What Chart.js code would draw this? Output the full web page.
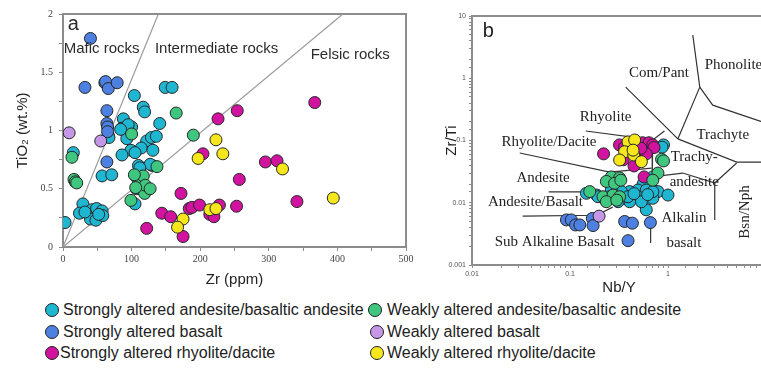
<!DOCTYPE html>
<html>
<head>
<meta charset="utf-8">
<script src="https://cdn.jsdelivr.net/npm/chart.js@4.4.1/dist/chart.umd.min.js"></script>
<style>
  body { margin: 0; width: 761px; height: 369px; overflow: hidden; background: #fff; position: relative;
         font-family: "Liberation Sans", Arial, sans-serif; }
  #ca { position: absolute; left: 0; top: 0; }
  #cb { position: absolute; left: 440px; top: 0; }
  .lg { position: absolute; font-size: 16px; color: #222; white-space: nowrap; line-height: 20px; }
  .dot { position: absolute; width: 12px; height: 12px; border-radius: 50%; border: 1px solid #222; }
</style>
</head>
<body>
<canvas id="ca" width="440" height="290"></canvas>
<canvas id="cb" width="340" height="300"></canvas>
<div id="legend"></div>
<script>
// sample groups
const groupNames = [
  'Strongly altered andesite/basaltic andesite',
  'Strongly altered basalt',
  'Strongly altered rhyolite/dacite',
  'Weakly altered andesite/basaltic andesite',
  'Weakly altered basalt',
  'Weakly altered rhyolite/dacite'
];
const groupColors = ['#1fb6d2', '#4d80e0', '#d1139f', '#3fc67f', '#c597e6', '#f6e71c'];

// panel a: Zr (ppm) vs TiO2 (wt.%)
const andesiteStrongA = [[149,1.37],[159,1.37],[104,1.30],[117,1.20],[119,1.16],[88,1.10],[86,1.02],[100,1.03],
  [141,1.06],[91,0.99],[93,0.93],[66,0.96],[67,0.94],[122,0.91],[129,0.94],[136,0.95],[114,0.85],[131,0.83],
  [99,0.83],[105,0.81],[86,0.79],[110,0.70],[130,0.70],[127,0.71],[15,0.81],[57,0.61],[71,0.62],[107,0.60],
  [107,0.50],[105,0.37],[29,0.37],[24,0.29],[36,0.29],[42,0.32],[49,0.33],[40,0.24],[48,0.23],[57,0.31],
  [58,0.27],[3,0.21],[32,0.30],[52,0.28],[112,0.68],[95,1.05],[84,1.01]];
const basaltStrongA = [[40,1.79],[32,1.37],[61,1.41],[62,1.42],[66,1.36],[79,1.41],[64,1.17],[64,1.06],
  [65,1.03],[65,0.99],[64,0.73]];
const rhyoliteStrongA = [[226,1.10],[254,1.17],[367,1.24],[204,0.80],[295,0.73],[312,0.74],[257,0.58],[341,0.39],
  [253,0.35],[228,0.36],[214,0.28],[220,0.26],[172,0.46],[144,0.29],[157,0.26],[184,0.33],[188,0.34],
  [199,0.36],[122,0.16],[175,0.09]];
const andesiteWeakA = [[165,1.15],[190,0.96],[100,0.97],[137,0.69],[13,0.77],[16,0.58],[18,0.56],[20,0.55],
  [99,0.40],[109,0.52],[112,0.59],[117,0.61],[119,0.46],[120,0.53],[127,0.50],[104,0.62],[106,0.51]];
const basaltWeakA = [[9,0.98],[55,0.91]];
const rhyoliteWeakA = [[223,0.92],[233,0.80],[197,0.76],[175,0.24],[167,0.17],[214,0.32],[223,0.33],[320,0.67],[394,0.42]];

const maficLineA = [[0,0],[139,2]];
const felsicLineA = [[0,0],[408,2]];
const notesA = [
  { text: 'a', x: 7, y: 1.91, big: true },
  { text: 'Mafic rocks', x: 1, y: 1.70 },
  { text: 'Intermediate rocks', x: 134, y: 1.70 },
  { text: 'Felsic rocks', x: 361, y: 1.65 }
];

// panel b: Nb/Y vs Zr/Ti
const andesiteStrongB = [[0.90,0.085],[0.87,0.078],[0.70,0.026],[0.66,0.0193],[0.557,0.020],[0.494,0.016],
  [0.60,0.016],[0.79,0.0151],[1.0,0.0133],[0.406,0.0151],[0.334,0.0151],[0.494,0.0125],[0.60,0.0111],
  [0.70,0.0118],[0.406,0.0104],[0.334,0.0118],[0.60,0.0077],[0.264,0.016],[0.187,0.0133],[0.147,0.0142],
  [0.193,0.0125],[0.254,0.0125],[0.31,0.0104],[0.391,0.0125],[0.535,0.0104],[0.70,0.0151],[0.45,0.014],[0.62,0.0135]];
const basaltStrongB = [[0.092,0.0053],[0.103,0.0053],[0.114,0.0044],[0.126,0.0044],[0.169,0.0056],[0.172,0.0043],
  [0.361,0.005],[0.433,0.0047],[0.661,0.0048],[0.391,0.00246]];
const rhyoliteStrongB = [[0.22,0.061],[0.32,0.085],[0.36,0.078],[0.42,0.075],[0.47,0.088],[0.55,0.092],[0.64,0.092],
  [0.70,0.085],[0.72,0.077],[0.49,0.066],[0.60,0.061],[0.35,0.049],[0.45,0.039],[0.57,0.026],[0.53,0.075]];
const andesiteWeakB = [[0.86,0.050],[0.90,0.047],[0.79,0.030],[0.70,0.023],[0.264,0.026],[0.321,0.025],[0.235,0.022],
  [0.285,0.0205],[0.159,0.0151],[0.217,0.0125],[0.275,0.0133],[0.321,0.0125],[0.235,0.0104],[0.30,0.011],[0.33,0.023]];
const basaltWeakB = [[0.198,0.0061]];
const rhyoliteWeakB = [[0.391,0.095],[0.457,0.102],[0.361,0.066],[0.447,0.0585],[0.321,0.0486],[0.535,0.0457],[0.44,0.070]];

// field boundaries (Winchester & Floyd)
const fieldLinesB = [
  [[1.79,4.95],[2.11,0.72]],
  [[2.11,0.72],[2.86,0.37],[10,0.19]],
  [[2.11,0.72],[1.26,0.106]],
  [[0.37,0.72],[1.26,0.106]],
  [[1.26,0.106],[5.02,0.045],[10,0.045]],
  [[0.145,0.142],[0.70,0.102],[0.92,0.142]],
  [[0.70,0.102],[0.69,0.026],[1.41,0.030],[3.0,0.0208],[3.0,0.0053]],
  [[0.0307,0.063],[0.254,0.031],[0.68,0.036]],
  [[0.0607,0.0149],[0.159,0.0149]],
  [[0.0329,0.0061],[0.187,0.0063],[0.273,0.0085]],
  [[0.665,0.0041],[0.665,0.00226]],
  [[5.02,0.0435],[3.0,0.0208]]
];
const notesB = [
  { text: 'b', x: 0.01285, y: 5.6, big: true },
  { text: 'Com/Pant', x: 0.40, y: 1.21 },
  { text: 'Phonolite', x: 2.37, y: 1.63 },
  { text: 'Rhyolite', x: 0.126, y: 0.241 },
  { text: 'Rhyolite/Dacite', x: 0.020, y: 0.0957 },
  { text: 'Trachyte', x: 1.95, y: 0.1225 },
  { text: 'Trachy-', x: 1.066, y: 0.055 },
  { text: 'andesite', x: 1.04, y: 0.0218 },
  { text: 'Andesite', x: 0.0284, y: 0.0252 },
  { text: 'Andesite/Basalt', x: 0.01456, y: 0.0104 },
  { text: 'Alkalin', x: 0.857, y: 0.00562 },
  { text: 'basalt', x: 0.964, y: 0.00223 },
  { text: 'Sub Alkaline Basalt', x: 0.01706, y: 0.00237 },
  { text: 'Bsn/Nph', x: 6.07, y: 0.0071, rotate: true }
];

const SANS = '"Liberation Sans", Arial, sans-serif';
const SERIF = '"Liberation Serif", "Times New Roman", serif';

const toXY = pts => pts.map(([x, y]) => ({ x, y }));

function pointSets(groups) {
  return groups.map((pts, i) => ({
    label: groupNames[i],
    data: toXY(pts),
    backgroundColor: groupColors[i],
    borderColor: '#262626',
    borderWidth: 1,
    pointRadius: 6,
    pointHoverRadius: 6,
    order: 6 - i
  }));
}

function lineSet(pts, color, width) {
  return {
    data: toXY(pts),
    showLine: true,
    borderColor: color,
    borderWidth: width,
    pointRadius: 0,
    fill: false,
    order: 100
  };
}

// box round the plotting area
const frame = {
  id: 'frame',
  beforeDatasetsDraw(chart, args, opts) {
    const a = chart.chartArea, c = chart.ctx;
    c.save();
    c.strokeStyle = opts.color;
    c.lineWidth = opts.width;
    c.strokeRect(a.left, a.top, a.right - a.left, a.bottom - a.top);
    c.restore();
  }
};

// text labels placed in data units
const notes = {
  id: 'notes',
  afterDatasetsDraw(chart, args, opts) {
    const c = chart.ctx, xs = chart.scales.x, ys = chart.scales.y;
    opts.items.forEach(n => {
      const px = xs.getPixelForValue(n.x), py = ys.getPixelForValue(n.y);
      c.save();
      c.fillStyle = opts.color;
      c.textBaseline = 'middle';
      c.font = n.big ? '20px ' + SANS : opts.size + 'px ' + opts.family;
      if (n.rotate) {
        c.translate(px, py);
        c.rotate(-Math.PI / 2);
        c.textAlign = 'center';
        c.fillText(n.text, 0, 0);
      } else {
        c.textAlign = 'left';
        c.fillText(n.text, px, py);
      }
      c.restore();
    });
  }
};

Chart.register(frame, notes);

new Chart(document.getElementById('ca'), {
  type: 'scatter',
  data: {
    datasets: [
      lineSet(maficLineA, '#9a9a9a', 1.2),
      lineSet(felsicLineA, '#9a9a9a', 1.2),
      ...pointSets([andesiteStrongA, basaltStrongA, rhyoliteStrongA, andesiteWeakA, basaltWeakA, rhyoliteWeakA])
    ]
  },
  options: {
    responsive: false,
    animation: false,
    layout: { padding: { top: 14, right: 34, left: 0, bottom: 0 } },
    plugins: {
      legend: { display: false },
      tooltip: { enabled: false },
      frame: { color: '#8c8c8c', width: 2 },
      notes: { items: notesA, size: 15, family: SANS, color: '#2b2b2b' }
    },
    scales: {
      x: {
        type: 'linear', min: 0, max: 500,
        afterFit(s) { s.height = 43; },
        border: { color: '#8c8c8c', width: 2 },
        grid: { drawOnChartArea: false, tickLength: 4, color: '#8c8c8c' },
        ticks: { stepSize: 50, autoSkip: false, maxRotation: 0, padding: 2, color: '#444',
                 font: { family: SERIF, size: 10 }, callback: v => (v % 100 === 0 ? v : '') },
        title: { display: true, text: 'Zr (ppm)', color: '#222', font: { family: SANS, size: 15 },
                 padding: { top: 0, bottom: 1 } }
      },
      y: {
        type: 'linear', min: 0, max: 2,
        afterFit(s) { s.width = 63; },
        border: { color: '#8c8c8c', width: 2 },
        grid: { drawOnChartArea: false, tickLength: 4, color: '#8c8c8c' },
        ticks: { stepSize: 0.25, autoSkip: false, padding: 6, color: '#444',
                 font: { family: SERIF, size: 10 }, callback: v => ((v * 2) % 1 === 0 ? v : '') },
        title: { display: true, text: 'TiO\u2082 (wt.%)', color: '#222', font: { family: SANS, size: 15 },
                 padding: { top: 14, bottom: 0 } }
      }
    }
  }
});

const logLabel = v => {
  const e = Math.log10(v);
  return Math.abs(e - Math.round(e)) < 1e-6 ? String(+v.toPrecision(1)) : '';
};

new Chart(document.getElementById('cb'), {
  type: 'scatter',
  data: {
    datasets: [
      ...fieldLinesB.map(l => lineSet(l, '#333', 1.2)),
      ...pointSets([andesiteStrongB, basaltStrongB, rhyoliteStrongB, andesiteWeakB, basaltWeakB, rhyoliteWeakB])
    ]
  },
  options: {
    responsive: false,
    animation: false,
    layout: { padding: { top: 16, right: 14, left: 0, bottom: 0 } },
    plugins: {
      legend: { display: false },
      tooltip: { enabled: false },
      frame: { color: '#8c8c8c', width: 2 },
      notes: { items: notesB, size: 15, family: SERIF, color: '#222' }
    },
    scales: {
      x: {
        type: 'logarithmic', min: 0.01, max: 10,
        afterFit(s) { s.height = 35; },
        border: { color: '#8c8c8c', width: 2 },
        grid: { drawOnChartArea: false, tickLength: 3, color: '#8c8c8c' },
        ticks: { autoSkip: false, maxRotation: 0, padding: 2, color: '#555',
                 font: { family: SANS, size: 7 }, callback: logLabel },
        title: { display: true, text: 'Nb/Y', color: '#222', font: { family: SANS, size: 15 },
                 padding: { top: 0, bottom: 3 } }
      },
      y: {
        type: 'logarithmic', min: 0.001, max: 10,
        afterFit(s) { s.width = 32; },
        border: { color: '#8c8c8c', width: 2 },
        grid: { drawOnChartArea: false, tickLength: 3, color: '#8c8c8c' },
        ticks: { autoSkip: false, padding: 3, color: '#555',
                 font: { family: SANS, size: 7 }, callback: logLabel },
        title: { display: true, text: 'Zr/Ti', color: '#222', font: { family: SANS, size: 15 },
                 padding: { top: 3, bottom: 0 } }
      }
    }
  }
});

// legend below both panels: [dot centre x, text left x, row centre y]
const legendSpots = [[52, 63, 310], [52, 63, 332], [52, 60, 353], [375, 387, 310], [377, 387, 332], [377, 387, 353]];
const legendBox = document.getElementById('legend');
groupNames.forEach((name, i) => {
  const [dx, tx, cy] = legendSpots[i];
  const dot = document.createElement('div');
  dot.className = 'dot';
  dot.style.left = (dx - 7) + 'px';
  dot.style.top = (cy - 7) + 'px';
  dot.style.background = groupColors[i];
  legendBox.appendChild(dot);
  const t = document.createElement('div');
  t.className = 'lg';
  t.style.left = tx + 'px';
  t.style.top = (cy - 10) + 'px';
  t.textContent = name;
  legendBox.appendChild(t);
});
</script>
</body>
</html>
